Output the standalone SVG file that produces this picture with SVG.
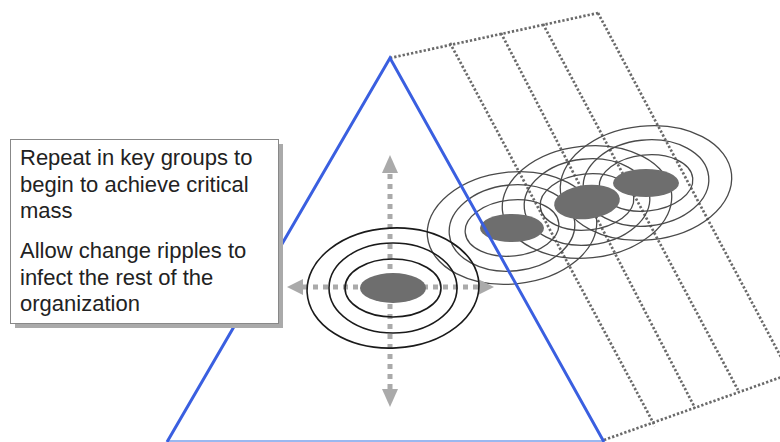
<svg xmlns="http://www.w3.org/2000/svg" width="780" height="442" viewBox="0 0 780 442">
<style>
.dot{fill:none;stroke:#6a6a6a;stroke-width:2.7;stroke-dasharray:2.3 2}
.ringR{fill:none;stroke:#4a4a4a;stroke-width:1.3}
.ringL{fill:none;stroke:#1a1a1a;stroke-width:1.6}
.core{fill:#6e6e6e}
.arr{fill:none;stroke:#aaa;stroke-width:5;stroke-dasharray:5 5}
.head{fill:#aaa}
.tri{fill:none;stroke:#3a5fe0;stroke-width:3;stroke-linejoin:miter}
.txt{font-family:"Liberation Sans",Arial,sans-serif;font-size:22px;fill:#222}
</style>
<rect width="780" height="442" fill="#fff"/>
<g id="grid">
<path class="dot" d="M390,58 L598,13"/>
<path class="dot" d="M604,440 L790,374"/>
<path class="dot" d="M450,43 L655,426"/>
<path class="dot" d="M501,33 L695,408"/>
<path class="dot" d="M543,24 L738,390"/>
<path class="dot" d="M598,13 L790,374"/>
</g>
<g id="ripples-right">
<g transform="translate(512,228) rotate(-6)">
<ellipse class="ringR" rx="47" ry="28"/><ellipse class="ringR" rx="63" ry="43"/><ellipse class="ringR" rx="85" ry="56"/>
</g>
<g transform="translate(587,202) rotate(-6)">
<ellipse class="ringR" rx="47" ry="28"/><ellipse class="ringR" rx="63" ry="43"/><ellipse class="ringR" rx="85" ry="56"/>
</g>
<g transform="translate(646,183) rotate(-6)">
<ellipse class="ringR" rx="47" ry="28"/><ellipse class="ringR" rx="63" ry="43"/><ellipse class="ringR" rx="86" ry="57"/>
</g>
<ellipse class="core" cx="512" cy="228" rx="32" ry="14"/>
<ellipse class="core" cx="587" cy="202" rx="33" ry="17" transform="rotate(-6 587 202)"/>
<ellipse class="core" cx="646" cy="183" rx="33" ry="14"/>
</g>
<g id="arrows">
<path class="arr" d="M390,174 V389"/>
<path class="arr" d="M303,287 H480"/>
<path class="head" d="M390,155 L382,173 H398 Z"/>
<path class="head" d="M390,407 L382,389 H398 Z"/>
<path class="head" d="M287,287 L303,279 V295 Z"/>
<path class="head" d="M494,287 L478,279 V295 Z"/>
</g>
<g id="ripples-left">
<ellipse class="ringL" cx="393" cy="288" rx="48" ry="29"/>
<ellipse class="ringL" cx="393" cy="288" rx="64" ry="45"/>
<ellipse class="ringL" cx="393" cy="288" rx="86" ry="60" transform="rotate(-3 393 288)"/>
<ellipse class="core" cx="393" cy="288" rx="33" ry="15"/>
</g>
<g id="pyramid">
<line x1="167" y1="441" x2="604" y2="441" stroke="#9ab8f0" stroke-width="2"/>
<path class="tri" d="M167,442 L390,58 L604,442"/>
</g>
<g id="textbox">
<rect x="15" y="144" width="268" height="184" fill="#aaa"/>
<rect x="10.5" y="139.5" width="268" height="184" fill="#fff" stroke="#888" stroke-width="1"/>
<text class="txt" x="20" y="165">Repeat in key groups to</text>
<text class="txt" x="20" y="192">begin to achieve critical</text>
<text class="txt" x="20" y="218">mass</text>
<text class="txt" x="20" y="258">Allow change ripples to</text>
<text class="txt" x="20" y="285">infect the rest of the</text>
<text class="txt" x="20" y="311">organization</text>
</g>
</svg>
